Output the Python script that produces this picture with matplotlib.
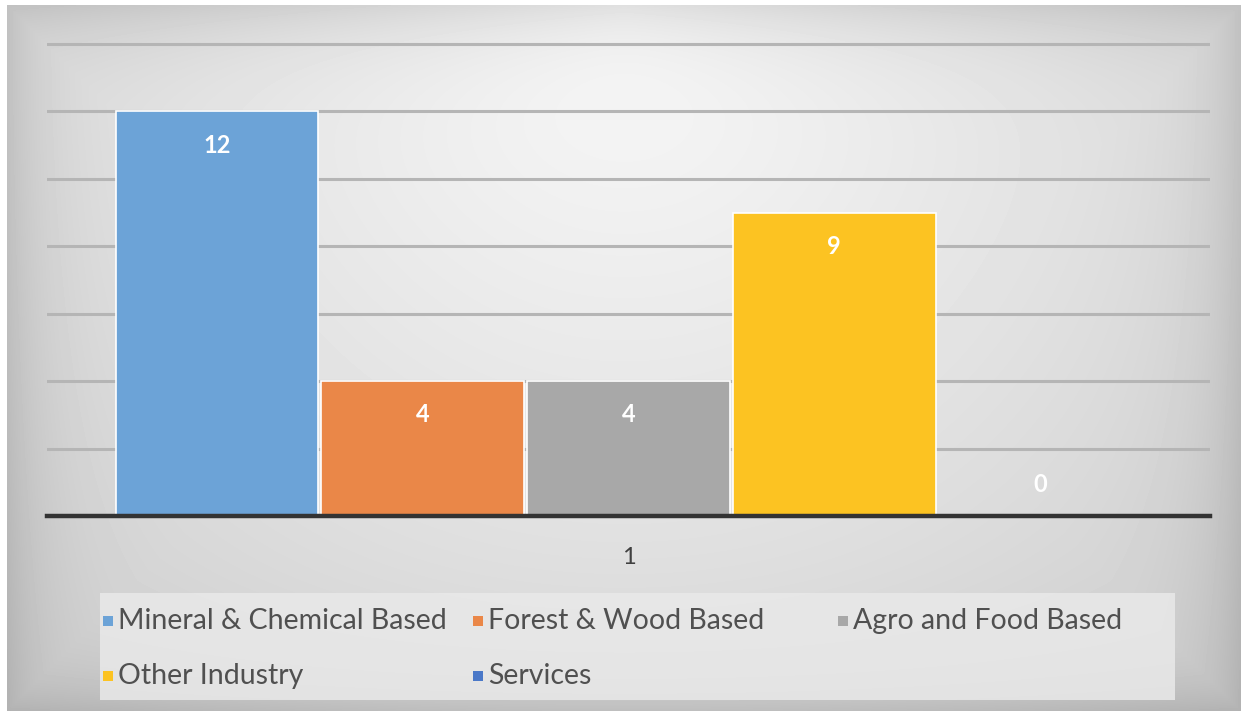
import numpy as np
import matplotlib.pyplot as plt
from matplotlib.patches import Rectangle

plt.rcParams['font.family'] = ['Lato', 'DejaVu Sans']

series = ['Mineral & Chemical Based', 'Forest & Wood Based', 'Agro and Food Based',
          'Other Industry', 'Services']
values = [12, 4, 4, 9, 0]
colors = ['#6ca3d7', '#ea8748', '#a8a8a8', '#fcc322', '#4a78c8']
category = ['1']

W, H = 1247, 716
fig = plt.figure(figsize=(W / 100, H / 100), dpi=100)
fig.patch.set_facecolor('white')

# background gradient (white at top centre, gray towards edges)
bg = fig.add_axes([7 / W, 5 / H, 1234 / W, 706 / H])
yy, xx = np.mgrid[0:706, 0:1234]
d = np.sqrt(((xx - 617) / 750.0) ** 2 + ((yy - 0) / 800.0) ** 2)
edge = np.minimum(np.minimum(xx, 1233 - xx), np.minimum(yy, 705 - yy))
val = 250 - 38 * d - 26 * np.exp(-edge / 40.0)
img = np.clip(val, 0, 255) / 255.0
bg.imshow(img, cmap='gray', vmin=0, vmax=1, aspect='auto', interpolation='bilinear')
bg.axis('off')

ax = fig.add_axes([47 / W, 1 - 516 / H, 1163 / W, 478.7 / H])
ax.patch.set_alpha(0)
ax.set_xlim(-0.5, 0.5)
ax.set_ylim(0, 14.2)

step = 0.177
width = 0.174
for i, (name, v, c) in enumerate(zip(series, values, colors)):
    x = (i - 2) * step
    ax.bar(x, v, width=width, color=c, edgecolor='white', linewidth=1.2, zorder=3)
    ly = v - 1.0 if v >= 2 else v + 0.93
    ax.text(x, ly, str(v), ha='center', va='center', color='white',
            fontsize=17, fontweight='bold', zorder=4)

ax.set_yticks(range(2, 15, 2))
ax.yaxis.grid(True, color='#b5b5b5', linewidth=2.2, zorder=1)
ax.tick_params(axis='y', left=False, labelleft=False)
ax.set_xticks([0])
ax.set_xticklabels(category)
ax.tick_params(axis='x', length=0, pad=22, labelsize=17, labelcolor='#404040')
for s in ['top', 'right', 'left']:
    ax.spines[s].set_visible(False)
ax.spines['bottom'].set_color('#333333')
ax.spines['bottom'].set_linewidth(3.2)
ax.spines['bottom'].set_zorder(5)

# legend box
fig.patches.append(Rectangle((100 / W, 1 - 700 / H), 1075 / W, 107 / H,
                             transform=fig.transFigure, facecolor='#e9e9e9',
                             edgecolor='none', alpha=0.85, zorder=1))
col_x = [103, 473, 838]
row_y = [621, 676]
for i, (name, c) in enumerate(zip(series, colors)):
    px = col_x[i % 3]
    py = row_y[i // 3]
    fig.patches.append(Rectangle((px / W, 1 - (py + 5) / H), 10 / W, 10 / H,
                                 transform=fig.transFigure, facecolor=c,
                                 edgecolor='none', zorder=2))
    fig.text((px + 15) / W, 1 - py / H, name, ha='left', va='center',
             fontsize=20.5, color='#505050', zorder=3)

fig.savefig('out.png', dpi=100, facecolor=fig.get_facecolor())
